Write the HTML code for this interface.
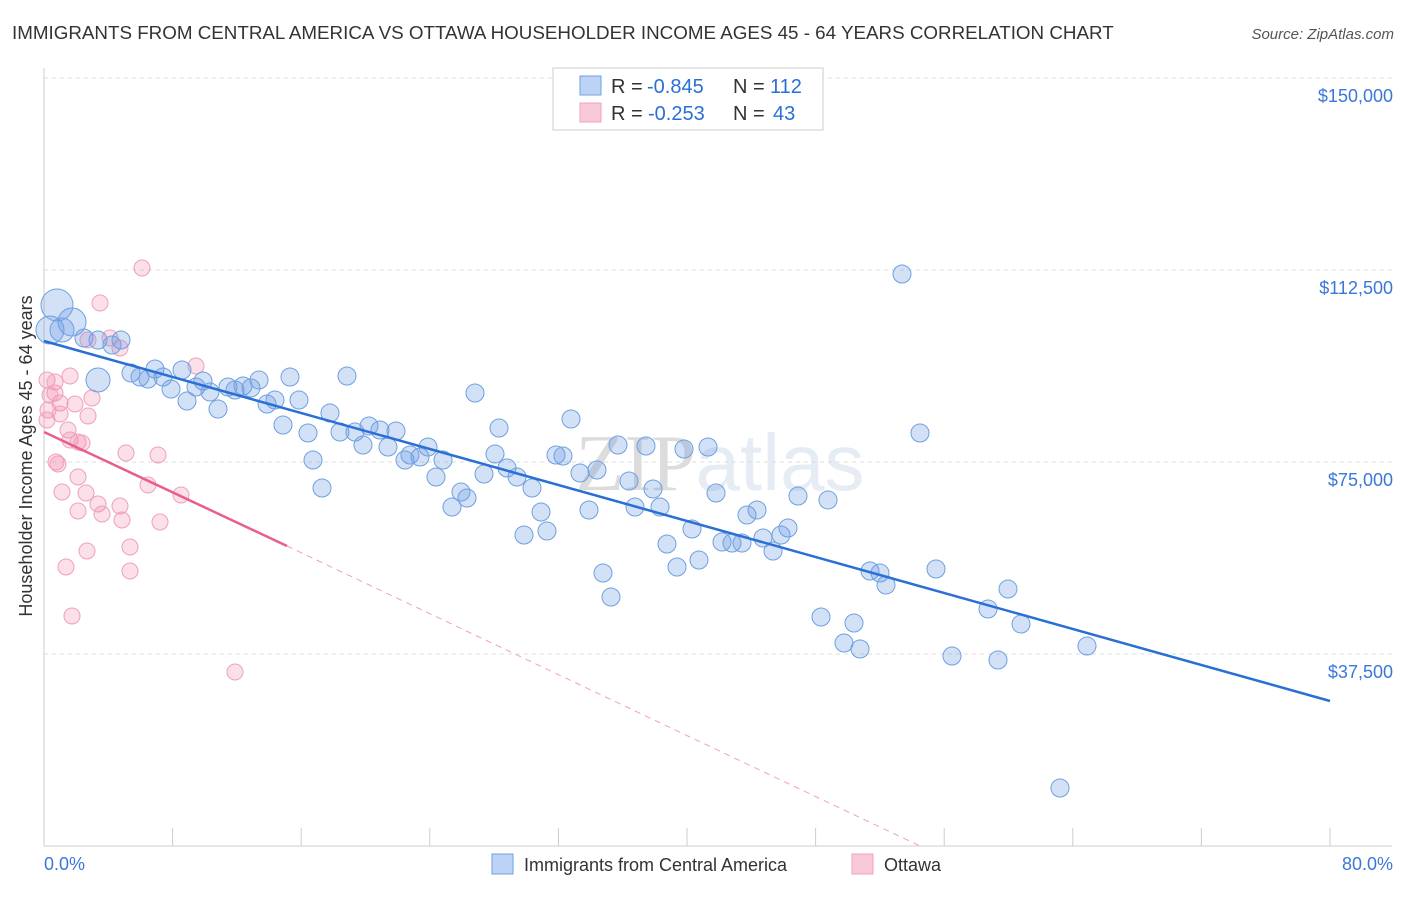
<!DOCTYPE html>
<html><head><meta charset="utf-8"><style>
body{margin:0;background:#fff;font-family:"Liberation Sans",sans-serif;}
svg text{font-family:"Liberation Sans",sans-serif;}
</style></head><body>
<svg width="1406" height="892" id="chart">
<text x="12" y="39" font-size="18.8" fill="#333">IMMIGRANTS FROM CENTRAL AMERICA VS OTTAWA HOUSEHOLDER INCOME AGES 45 - 64 YEARS CORRELATION CHART</text>
<text x="1394" y="39" font-size="15" fill="#555" font-style="italic" text-anchor="end">Source: ZipAtlas.com</text>
<text x="720" y="490" font-size="80" fill="#e6ecf4" text-anchor="middle"><tspan fill="#dcdcdc" font-family="Liberation Serif">ZIP</tspan>atlas</text>
<g id="grid"></g>
<line x1="44" y1="68" x2="44" y2="846" stroke="#ccc"/>
<line x1="44" y1="846" x2="1392" y2="846" stroke="#ccc"/>
<g id="xt"></g>
<text x="32" y="456" font-size="18" fill="#333" text-anchor="middle" transform="rotate(-90 32 456)">Householder Income Ages 45 - 64 years</text>
<text x="44" y="870" font-size="18" fill="#3a78d8">0.0%</text>
<text x="1393" y="870" font-size="18" fill="#3a78d8" text-anchor="end">80.0%</text>
<g id="pts"></g>
<g id="lines"></g>
<g>
<rect x="553" y="68" width="270" height="62" fill="#fff" stroke="#ccc"/>
<rect x="580" y="76" width="21" height="19" fill="#bcd3f5" stroke="#6fa0e0"/>
<rect x="580" y="103" width="21" height="19" fill="#f9c9d8" stroke="#f0a0bc"/>
<text x="611" y="93" font-size="20" fill="#333">R =</text>
<text x="647" y="93" font-size="20" fill="#2a6fd6">-0.845</text>
<text x="733" y="93" font-size="20" fill="#333">N =</text>
<text x="770" y="93" font-size="20" fill="#2a6fd6">112</text>
<text x="611" y="120" font-size="20" fill="#333">R =</text>
<text x="648" y="120" font-size="20" fill="#2a6fd6">-0.253</text>
<text x="733" y="120" font-size="20" fill="#333">N =</text>
<text x="773" y="120" font-size="20" fill="#2a6fd6">43</text>
</g>
<rect x="492" y="854" width="21" height="20" fill="#bcd3f5" stroke="#6fa0e0"/>
<text x="524" y="871" font-size="18" fill="#333">Immigrants from Central America</text>
<rect x="852" y="854" width="21" height="20" fill="#f9c9d8" stroke="#f0a0bc"/>
<text x="884" y="871" font-size="18" fill="#333">Ottawa</text>
</svg>
<script>
const yTicks=[37500,75000,112500,150000];
const yTickLabels=["$37,500","$75,000","$112,500","$150,000"];
const xTicks=[0,8,16,24,32,40,48,56,64,72,80];
const bluePx=[[57,305,16],[72,322,14],[50,330,14],[62,330,12],[84,338],[98,340],[112,345],[121,340],[98,380,12],[131,373],[140,377],[148,379],[155,369],[163,377],[171,389],[182,370],[187,401],[196,387],[203,381],[210,392],[218,409],[228,387],[235,390],[243,386],[251,388],[259,380],[267,404],[275,400],[283,425],[290,377],[299,400],[308,433],[313,460],[322,488],[330,413],[340,432],[347,376],[355,432],[363,445],[369,426],[380,430],[388,447],[396,431],[405,460],[410,455],[420,457],[428,447],[436,477],[443,460],[452,507],[461,492],[467,498],[475,393],[484,474],[495,454],[499,428],[507,468],[517,477],[524,535],[532,488],[541,512],[547,531],[556,455],[563,456],[571,419],[580,473],[589,510],[597,470],[603,573],[611,597],[618,445],[629,481],[635,507],[646,446],[653,489],[660,507],[667,544],[677,567],[684,449],[692,529],[699,560],[708,447],[716,493],[722,542],[732,543],[742,543],[747,515],[757,510],[763,538],[773,551],[781,535],[788,528],[798,496],[821,617],[828,500],[844,643],[854,623],[860,649],[870,571],[880,573],[886,585],[902,274],[920,433],[936,569],[952,656],[988,609],[998,660],[1008,589],[1021,624],[1087,646],[1060,788]];
const pinkPx=[[142,268],[100,303],[120,348],[88,340],[196,366],[47,380],[55,382],[70,376],[55,393],[60,403],[75,404],[92,398],[48,410],[60,414],[88,416],[68,430],[70,440],[78,442],[82,443],[126,453],[158,455],[56,462],[58,464],[78,477],[148,485],[62,492],[86,493],[181,495],[98,504],[120,506],[78,511],[102,514],[122,520],[160,522],[130,547],[87,551],[66,567],[130,571],[72,616],[235,672],[47,420],[50,395],[110,338]];
const blueX=bluePx.map(p=>(p[0]-44)/1286*80), blueY=bluePx.map(p=>(846-p[1])/192*37500), blueR=bluePx.map(p=>p[2]||9);
const pinkX=pinkPx.map(p=>(p[0]-44)/1286*80), pinkY=pinkPx.map(p=>(846-p[1])/192*37500);
const blueFit=[[0,(846-341)/192*37500],[80,(846-701)/192*37500]];
const pinkFit=[[0,(846-432)/192*37500],[(287-44)/1286*80,(846-546)/192*37500],[(920-44)/1286*80,0]];
const sx=v=>44+v/80*1286, sy=v=>846-v/37500*192;
const NS="http://www.w3.org/2000/svg";
function mk(t,a,p){const e=document.createElementNS(NS,t);for(const k in a)e.setAttribute(k,a[k]);p.appendChild(e);return e;}
const grid=document.getElementById('grid');
yTicks.forEach((t,i)=>{
 const l=mk('line',{x1:44,x2:1392,y1:sy(t),y2:sy(t),stroke:'#ddd','stroke-dasharray':'4,4'},grid);
 
 
 const tx=mk('text',{x:1393,y:sy(t)+24,'font-size':18,fill:'#3a78d8','text-anchor':'end'},grid);
 tx.textContent=yTickLabels[i];
 
 
});
const xt=document.getElementById('xt');
xTicks.forEach(t=>{
 const l=mk('line',{x1:sx(t),x2:sx(t),y1:828,y2:846,stroke:'#ccc'},xt);
 
 
});
const pts=document.getElementById('pts');
pinkX.forEach((x,i)=>{
 const c=mk('circle',{cx:sx(x),cy:sy(pinkY[i]),r:8,fill:'rgba(240,140,175,0.28)',stroke:'#f0a0bc','stroke-width':1},pts);
 
 
});
blueX.forEach((x,i)=>{
 const c=mk('circle',{cx:sx(x),cy:sy(blueY[i]),r:blueR[i],fill:'rgba(110,155,230,0.3)',stroke:'#6fa0e0','stroke-width':1},pts);
 
 
});
const ln=document.getElementById('lines');
const b=mk('line',{x1:sx(blueFit[0][0]),y1:sy(blueFit[0][1]),x2:sx(blueFit[1][0]),y2:sy(blueFit[1][1]),stroke:'#2a6fd6','stroke-width':2.5},ln);


const p=mk('line',{x1:sx(pinkFit[0][0]),y1:sy(pinkFit[0][1]),x2:sx(pinkFit[1][0]),y2:sy(pinkFit[1][1]),stroke:'#e8608a','stroke-width':2.5},ln);


const pd=mk('line',{x1:sx(pinkFit[1][0]),y1:sy(pinkFit[1][1]),x2:sx(pinkFit[2][0]),y2:sy(pinkFit[2][1]),stroke:'#f0a0bc','stroke-width':1,'stroke-dasharray':'6,5'},ln);


</script>
</body></html>
